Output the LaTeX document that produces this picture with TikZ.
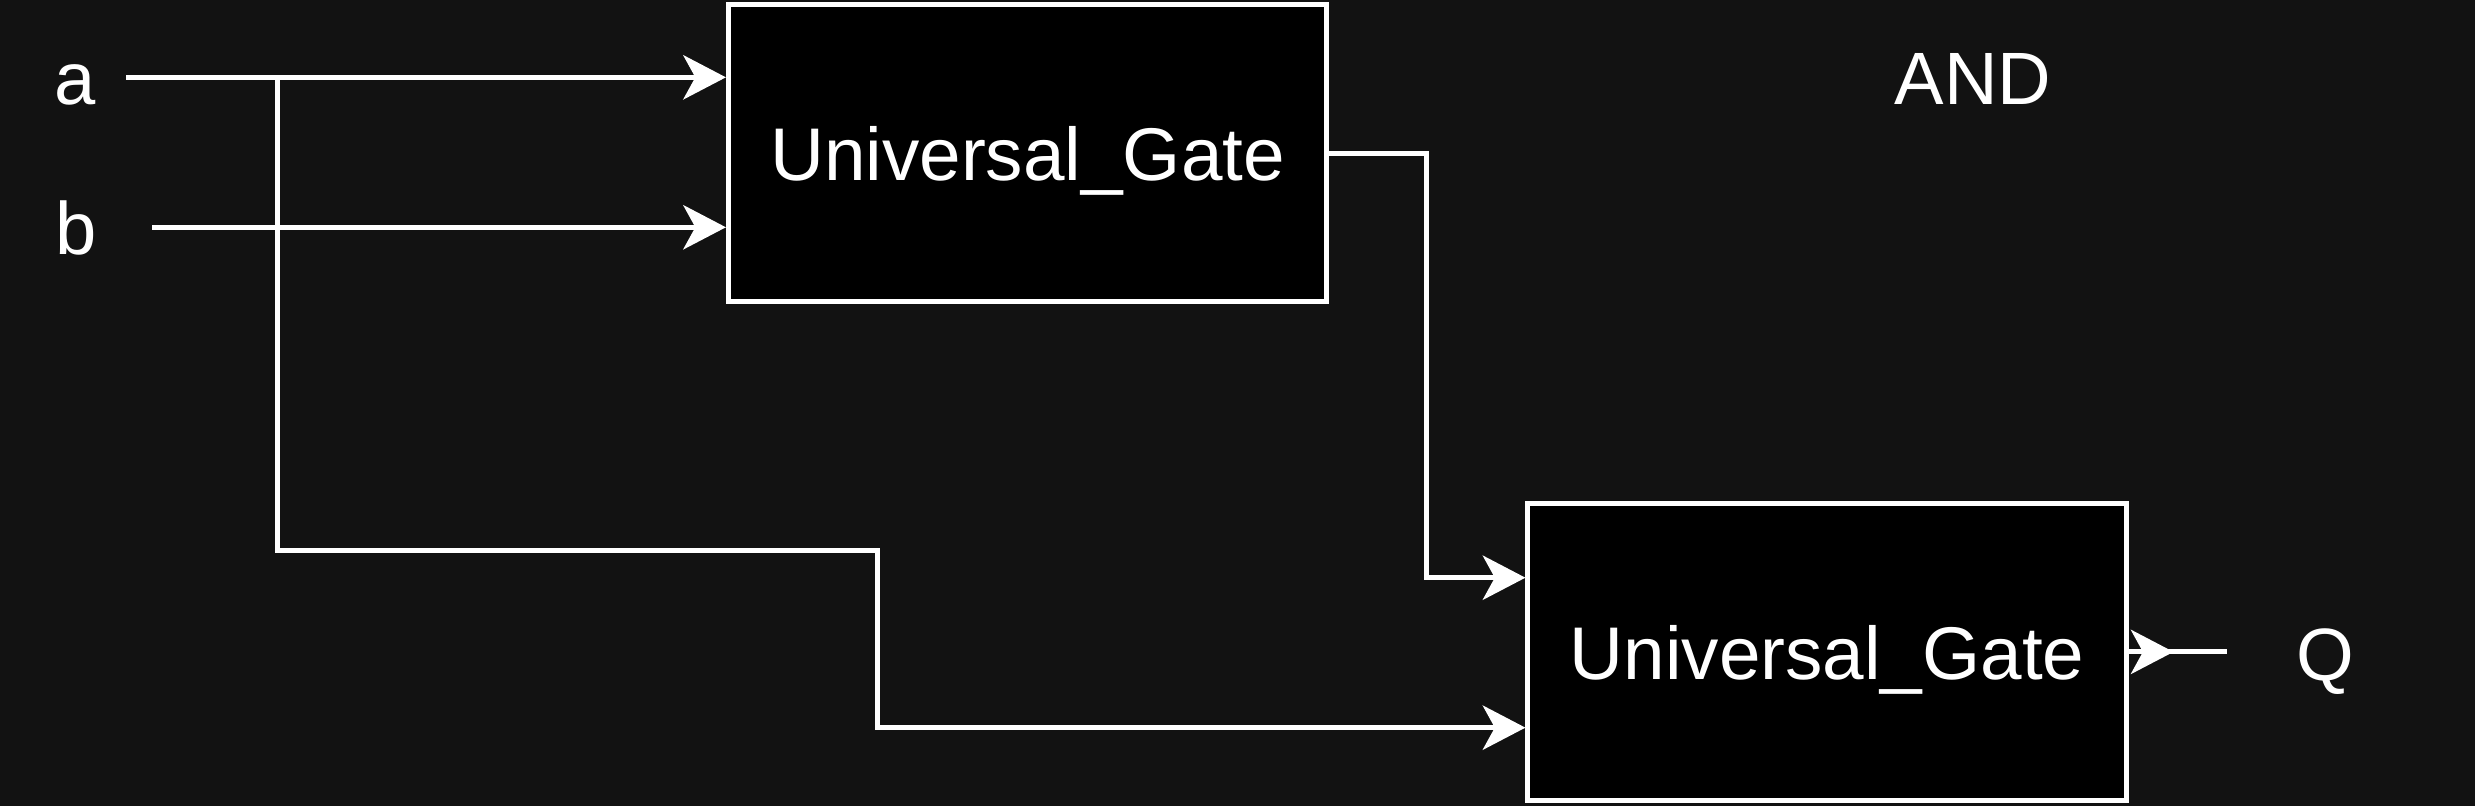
\documentclass[tikz,border=0pt]{standalone}
\usepackage{fontspec}
\setmainfont{Liberation Sans}
\usetikzlibrary{arrows.meta}
\definecolor{bg}{HTML}{121212}
\begin{document}
\begin{tikzpicture}[x=1pt,y=-1pt,
  wire/.style={draw=white,line width=3.2pt},
  arr/.style={-{Stealth[length=27pt,width=28pt,inset=7.6pt]}},
  gate/.style={draw=white,line width=3.2pt,fill=black,minimum width=379pt,minimum height=188pt,inner sep=0pt,text=white,font=\fontsize{47.3}{56}\selectfont,text height=35pt,text depth=0pt},
  lbl/.style={text=white,font=\fontsize{47}{56}\selectfont,inner sep=0pt,anchor=base}]
\useasboundingbox (0,0) rectangle (1568,510);
\fill[bg] (-10,-10) rectangle (1578,520);
\node[gate] (g1) at (651,97) {Universal\_Gate};
\node[gate] (g2) at (1157.5,413) {Universal\_Gate};
\coordinate (ain) at (80,49);
\coordinate (bin) at (96.5,144);
\coordinate (ja) at (176,49);
\coordinate (jb) at (556,349);
\coordinate (y461) at (0,461);
\coordinate (c1) at (904,366);
\coordinate (qtip) at (1377,413);
\coordinate (qend) at (1411,413);
\draw[wire,arr] (ain) -- (g1.west |- ain);
\draw[wire,arr] (bin) -- (g1.west |- bin);
\draw[wire,arr] (ja) |- (jb) |- (g2.west |- y461);
\draw[wire,arr] (g1.east) -| (c1) -- (g2.west |- c1);
\draw[wire] (g2.east) -- (qend);
\draw[wire,arr] (g2.east) -- (qtip);
\node[lbl] (la) at (47.5,66.5) {a};
\node[lbl] (lb) at (48,161.5) {b};
\node[lbl] (land) at (1250,66) {AND};
\node[lbl] (lq) at (1473,431) {Q};
\end{tikzpicture}
\end{document}
